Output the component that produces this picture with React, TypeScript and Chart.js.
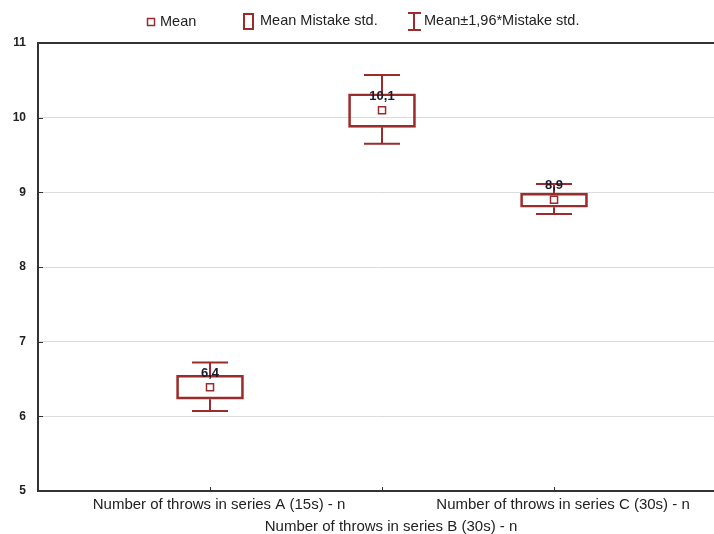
import React, { useEffect, useRef } from "react";
import { Chart, registerables } from "chart.js";
Chart.register(...registerables);

const categories = [
  "Number of throws in series A (15s) - n",
  "Number of throws in series B (30s) - n",
  "Number of throws in series C (30s) - n",
];
const positions = [1, 2, 3];
const means = [6.39, 10.1, 8.9];
const boxLow = [6.23, 9.87, 8.8];
const boxHigh = [6.55, 10.32, 8.99];
const whiskerLow = [6.07, 9.65, 8.71];
const whiskerHigh = [6.72, 10.57, 9.11];
const meanLabels = ["6,4", "10,1", "8,9"];
const yTicks = [5, 6, 7, 8, 9, 10, 11];
const legendLabels = ["Mean", "Mean Mistake std.", "Mean\u00b11,96*Mistake std."];

const RED = "#9c2b2b";
const FONT = "'Liberation Sans', Arial, sans-serif";

const boxPlugin = {
  id: "boxExtras",
  afterDatasetsDraw(chart: any) {
    const ctx = chart.ctx;
    const xs = chart.scales.x;
    const ys = chart.scales.y;
    ctx.save();
    ctx.strokeStyle = RED;
    ctx.lineWidth = 2;
    positions.forEach((p, i) => {
      const x = Math.round(xs.getPixelForValue(p));
      const yl = ys.getPixelForValue(whiskerLow[i]);
      const yh = ys.getPixelForValue(whiskerHigh[i]);
      const bl = ys.getPixelForValue(boxLow[i]);
      const bh = ys.getPixelForValue(boxHigh[i]);
      ctx.beginPath();
      ctx.moveTo(x, yl);
      ctx.lineTo(x, bl);
      ctx.moveTo(x, bh);
      ctx.lineTo(x, yh);
      ctx.moveTo(x - 18, yl);
      ctx.lineTo(x + 18, yl);
      ctx.moveTo(x - 18, yh);
      ctx.lineTo(x + 18, yh);
      ctx.stroke();
    });
    ctx.restore();
  },
  afterDraw(chart: any) {
    const ctx = chart.ctx;
    const xs = chart.scales.x;
    const ys = chart.scales.y;
    ctx.save();
    // mean labels
    ctx.font = `bold 13px ${FONT}`;
    ctx.fillStyle = "#1a1a2a";
    ctx.textAlign = "center";
    ctx.textBaseline = "middle";
    positions.forEach((p, i) => {
      const x = xs.getPixelForValue(p);
      const y = ys.getPixelForValue(means[i]);
      ctx.fillText(meanLabels[i], x, y - 14);
    });
    // inward ticks
    ctx.strokeStyle = "#333";
    ctx.lineWidth = 1;
    ctx.beginPath();
    positions.forEach((p) => {
      const x = Math.round(xs.getPixelForValue(p)) + 0.5;
      ctx.moveTo(x, ys.bottom);
      ctx.lineTo(x, ys.bottom - 4);
    });
    yTicks.forEach((t) => {
      const y = Math.round(ys.getPixelForValue(t)) + 0.5;
      ctx.moveTo(xs.left, y);
      ctx.lineTo(xs.left + 5, y);
    });
    ctx.stroke();
    // legend
    ctx.strokeStyle = RED;
    ctx.lineWidth = 1.5;
    ctx.fillStyle = "#fff";
    ctx.fillRect(147.5, 18.5, 7, 7);
    ctx.strokeRect(147.5, 18.5, 7, 7);
    ctx.lineWidth = 2;
    ctx.strokeRect(244, 14, 9, 15);
    ctx.beginPath();
    ctx.moveTo(414, 13);
    ctx.lineTo(414, 30);
    ctx.moveTo(408, 13);
    ctx.lineTo(421, 13);
    ctx.moveTo(408, 30);
    ctx.lineTo(421, 30);
    ctx.stroke();
    ctx.font = `14.5px ${FONT}`;
    ctx.fillStyle = "#222";
    ctx.textAlign = "left";
    ctx.textBaseline = "middle";
    ctx.fillText(legendLabels[0], 160, 22);
    ctx.fillText(legendLabels[1], 260, 21);
    ctx.fillText(legendLabels[2], 424, 21);
    ctx.restore();
  },
};

export default function App() {
  const ref = useRef<HTMLCanvasElement>(null);
  useEffect(() => {
    if (!ref.current) return;
    const chart = new Chart(ref.current, {
      type: "bar",
      data: {
        datasets: [
          {
            type: "scatter",
            label: legendLabels[0],
            data: positions.map((p, i) => ({ x: p, y: means[i] })),
            pointStyle: "rect",
            pointRadius: 5,
            borderColor: RED,
            backgroundColor: "#fff",
            borderWidth: 1.5,
            order: 0,
          } as any,
          {
            type: "bar",
            label: legendLabels[1],
            data: positions.map((p, i) => ({ x: p, y: [boxLow[i], boxHigh[i]] })) as any,
            backgroundColor: "rgba(255,255,255,0)",
            borderColor: RED,
            borderWidth: 2,
            borderSkipped: false,
            barThickness: 67,
            order: 1,
          } as any,
        ],
      },
      options: {
        animation: false,
        responsive: false,
        layout: { autoPadding: false, padding: { top: 43, left: 0, right: 0, bottom: 0 } },
        plugins: { legend: { display: false }, tooltip: { enabled: false } },
        scales: {
          x: {
            type: "linear",
            offset: false,
            min: 0,
            max: 3.93,
            afterBuildTicks: (s: any) => {
              s.ticks = positions.map((p) => ({ value: p }));
            },
            afterFit: (s: any) => {
              s.height = 43;
              s.paddingRight = 0;
              s.paddingLeft = 0;
            },
            grid: { display: false, drawTicks: false },
            border: { display: true, color: "#333", width: 2 },
            ticks: {
              autoSkip: false,
              maxRotation: 0,
              minRotation: 0,
              padding: 3,
              labelOffset: 9,
              color: "#222",
              font: { family: FONT, size: 15, lineHeight: "22px" } as any,
              callback: (v: any) => {
                const i = positions.indexOf(Number(v));
                if (i < 0) return "";
                return i === 1 ? ["", categories[i]] : categories[i];
              },
            },
          },
          y: {
            min: 5,
            max: 11,
            afterBuildTicks: (s: any) => {
              s.ticks = yTicks.map((t) => ({ value: t }));
            },
            afterFit: (s: any) => {
              s.width = 38;
            },
            grid: {
              drawTicks: false,
              color: (c: any) => (c.tick && c.tick.value === 11 ? "#333" : "#dcdcdc"),
              lineWidth: (c: any) => (c.tick && c.tick.value === 11 ? 2 : 1),
            },
            border: { display: true, color: "#333", width: 2 },
            ticks: {
              padding: 12,
              color: "#222",
              font: { family: FONT, size: 12, weight: "bold" },
            },
          },
        },
      },
      plugins: [boxPlugin],
    } as any);
    return () => chart.destroy();
  }, []);
  return (
    <div style={{ position: "fixed", left: 0, top: 0, width: 714, height: 534, background: "#fff" }}>
      <canvas ref={ref} width={714} height={534} style={{ width: 714, height: 534 }} />
    </div>
  );
}
